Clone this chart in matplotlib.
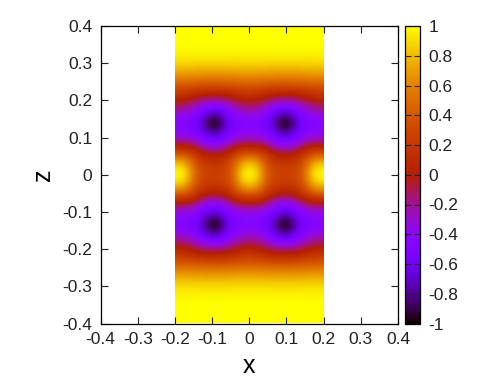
import numpy as np
import matplotlib
matplotlib.use("Agg")
import matplotlib.pyplot as plt

plt.rcParams['font.family'] = ['Liberation Sans', 'DejaVu Sans']

# one quadrant of the symmetric field
x_quad = [0.0, 0.02, 0.04, 0.06, 0.08, 0.10]
z_quad = [0.00, 0.02, 0.04, 0.06, 0.08, 0.10, 0.12, 0.14, 0.16, 0.18, 0.20,
          0.22, 0.24, 0.26, 0.28, 0.30, 0.32, 0.34, 0.36, 0.38, 0.40]
field_quad = [
    [1.00, 0.92, 0.58, 0.34, 0.27, 0.26],
    [0.92, 0.82, 0.52, 0.32, 0.25, 0.23],
    [0.68, 0.60, 0.40, 0.22, 0.14, 0.12],
    [0.30, 0.28, 0.18, 0.04, -0.06, -0.09],
    [-0.03, -0.04, -0.10, -0.24, -0.36, -0.40],
    [-0.30, -0.32, -0.36, -0.46, -0.56, -0.60],
    [-0.43, -0.45, -0.48, -0.58, -0.76, -0.86],
    [-0.47, -0.48, -0.52, -0.63, -0.88, -1.00],
    [-0.37, -0.39, -0.45, -0.56, -0.74, -0.84],
    [-0.18, -0.22, -0.30, -0.42, -0.52, -0.56],
    [-0.02, -0.05, -0.10, -0.18, -0.24, -0.26],
    [0.18, 0.16, 0.10, 0.05, 0.03, 0.02],
    [0.36, 0.35, 0.33, 0.31, 0.30, 0.29],
    [0.55, 0.55, 0.54, 0.53, 0.53, 0.52],
    [0.72, 0.72, 0.71, 0.71, 0.70, 0.70],
    [0.86, 0.86, 0.86, 0.85, 0.85, 0.85],
    [0.94, 0.94, 0.94, 0.94, 0.94, 0.94],
    [0.98, 0.98, 0.98, 0.98, 0.98, 0.98],
    [1.00, 1.00, 1.00, 1.00, 1.00, 1.00],
    [1.00, 1.00, 1.00, 1.00, 1.00, 1.00],
    [1.00, 1.00, 1.00, 1.00, 1.00, 1.00],
]
axis_ticks = [-0.4, -0.3, -0.2, -0.1, 0, 0.1, 0.2, 0.3, 0.4]
axis_labels = ['-0.4', '-0.3', '-0.2', '-0.1', '0', '0.1', '0.2', '0.3', '0.4']
cb_ticks = [-1, -0.8, -0.6, -0.4, -0.2, 0, 0.2, 0.4, 0.6, 0.8, 1]
cb_labels = ['-1', '-0.8', '-0.6', '-0.4', '-0.2', '0', '0.2', '0.4', '0.6', '0.8', '1']

# mirror the quadrant: left/right about x=0 and x=0.1, up/down about z=0
q = np.array(field_quad)
cell = np.hstack([q, q[:, -2:0:-1]])          # x 0 .. 0.18
cell = np.hstack([cell, q[:, :1]])             # x 0 .. 0.20
right = cell
full_x = np.hstack([right[:, :0:-1], right])
field = np.vstack([full_x[:0:-1], full_x])
xs = np.concatenate([-np.array(x_quad + [0.12, 0.14, 0.16, 0.18, 0.20])[:0:-1],
                     np.array(x_quad + [0.12, 0.14, 0.16, 0.18, 0.20])])
zs = np.concatenate([-np.array(z_quad)[:0:-1], np.array(z_quad)])

W, H = 479, 385
fig = plt.figure(figsize=(W / 100, H / 100), dpi=100)
ax = fig.add_axes([100.5 / W, 1 - 323.5 / H, 297.5 / W, 297.5 / H])
cax = fig.add_axes([405 / W, 1 - 323.5 / H, 15 / W, 297.5 / H])

im = ax.imshow(field, extent=[xs[0], xs[-1], zs[0], zs[-1]], origin='lower',
               cmap='gnuplot', vmin=-1, vmax=1, interpolation='bicubic', aspect='auto')
ax.set_xlim(-0.4, 0.4)
ax.set_ylim(-0.4, 0.4)
ax.set_xticks(axis_ticks, axis_labels)
ax.set_yticks(axis_ticks, axis_labels)
ax.tick_params(direction='in', length=5, width=0.8, top=True, right=True,
               labelsize=12.5, colors='#222222', pad=6)
for s in ax.spines.values():
    s.set_linewidth(0.9)
ax.set_xlabel('x', fontsize=18, labelpad=5)
ax.set_ylabel('z', fontsize=18, labelpad=5)

cb = fig.colorbar(im, cax=cax)
cb.set_ticks(cb_ticks, labels=cb_labels)
cb.ax.tick_params(direction='in', length=4, width=0.8, left=True, right=True,
                  labelsize=12.5, colors='#222222', pad=6)
cb.outline.set_linewidth(0.9)

fig.savefig('out.png', dpi=100)
